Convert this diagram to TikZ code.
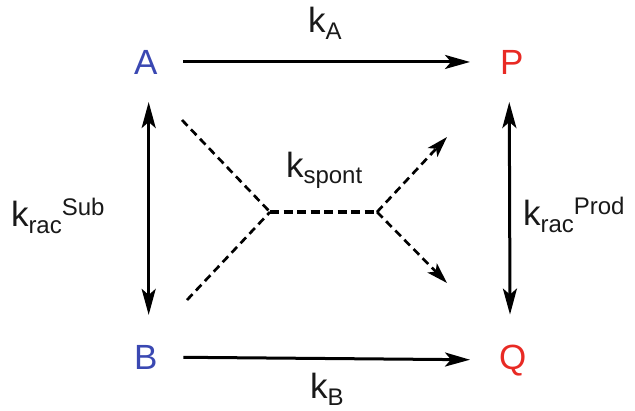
\documentclass[tikz,border=0pt]{standalone}
\usepackage{fontspec}
\setmainfont{Liberation Sans}
\usetikzlibrary{arrows.meta}
\definecolor{sblue}{RGB}{58,72,178}
\definecolor{pred}{RGB}{232,42,36}
\newcommand{\lsub}[1]{\raisebox{-7bp}{\fontsize{24bp}{28bp}\selectfont #1}}
\newcommand{\lsubs}[1]{\raisebox{-6bp}{\fontsize{24bp}{28bp}\selectfont #1}}
\newcommand{\lsup}[1]{\raisebox{11bp}{\fontsize{24bp}{28bp}\selectfont #1}}
\begin{document}
\begin{tikzpicture}[x=1bp,y=-1bp,
  every node/.style={inner sep=0pt, outer sep=0pt, font=\fontsize{35bp}{42bp}\selectfont},
  species/.style={anchor=base west},
  lbl/.style={anchor=base west, text=black!90},
  rxn/.style={line width=3bp, black, -{Stealth[length=25bp,width=14bp,inset=6bp]}},
  eqm/.style={line width=3bp, black, {Stealth[length=26bp,width=14bp,inset=6bp]}-{Stealth[length=26bp,width=14bp,inset=6bp]}},
  diag/.style={line width=2.7bp, black, dash pattern=on 8bp off 5bp},
  diagarr/.style={diag, -{Stealth[length=21bp,width=13bp,inset=5bp]}},
  horiz/.style={line width=4bp, black, dash pattern=on 9bp off 4.5bp}]
\useasboundingbox (0,0) rectangle (635,410);
% species
\node[species, text=sblue] (A) at (134,74) {A};
\node[species, text=sblue] (B) at (134,369) {B};
\node[species, text=pred] (P) at (500,74) {P};
\node[species, text=pred] (Q) at (499,369) {Q};
% labels
\node[lbl] (kA) at (308,32) {k\lsub{A}};
\node[lbl] (kB) at (310,398) {k\lsub{B}};
\node[lbl] (ksub) at (11,226) {k\lsub{rac}\lsup{Sub}};
\node[lbl] (kprod) at (523,225) {k\lsub{rac}\lsup{Prod}};
\node[lbl] (ksp) at (286,177) {k\lsubs{spont}};
% main arrows
\draw[rxn, shorten <=26bp, shorten >=30bp] (A) -- (P);
\draw[rxn, shorten <=26bp, shorten >=29bp] (B) -- (Q);
\draw[eqm, shorten <=28bp, shorten >=30bp] ([xshift=3bp]A.south) -- ([xshift=3bp]B.north);
\draw[eqm, shorten <=28bp, shorten >=30bp] ([xshift=-2.5bp]P.south) -- ([xshift=-2.5bp]Q.north);
% spontaneous pathway
\coordinate (ul) at (182,120);
\coordinate (ll) at (187,300);
\coordinate (j1) at (270,212);
\coordinate (j2) at (377,212);
\coordinate (ur) at (447,137);
\coordinate (lr) at (447,283);
\draw[diag] (ul) -- (j1);
\draw[diag] (ll) -- (j1);
\draw[horiz] (j1) -- (j2);
\draw[diagarr] (j2) -- (ur);
\draw[diagarr] (j2) -- (lr);
\end{tikzpicture}
\end{document}
